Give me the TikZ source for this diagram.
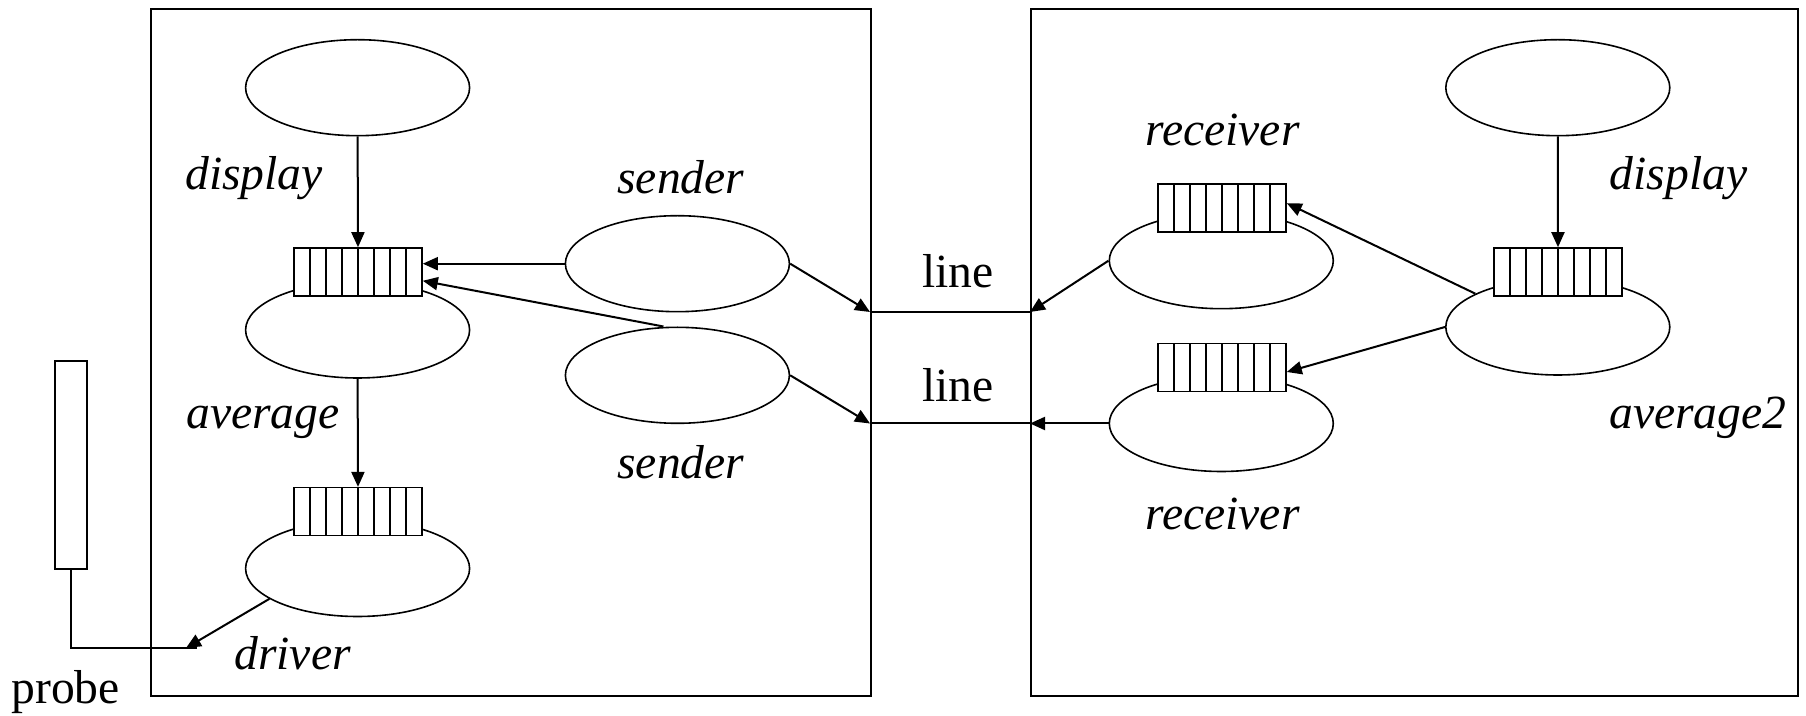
\documentclass[tikz,border=0pt]{standalone}
\usepackage{fontspec}
\setmainfont{Liberation Serif}
\usetikzlibrary{shapes.geometric,arrows.meta,calc}
\begin{document}
\begin{tikzpicture}[x=0.5pt,y=-0.5pt,
  font=\fontsize{23.8}{28}\selectfont,
  proc/.style={ellipse, draw, line width=0.8pt, minimum width=112pt, minimum height=48pt, inner sep=0pt},
  queue/.style={rectangle, draw, fill=white, line width=0.8pt, minimum width=64pt, minimum height=24pt, inner sep=0pt,
    path picture={\foreach \k in {1,...,7}{\draw[line width=0.7pt] ([xshift=\k*8pt]path picture bounding box.south west) -- ([xshift=\k*8pt]path picture bounding box.north west);}}},
  frame/.style={draw, line width=1.1pt, inner sep=0pt, anchor=north west},
  arr/.style={-{Triangle[length=7.5pt,width=6.5pt]}, line width=1pt},
  conn/.style={line width=1pt},
  lab/.style={anchor=base west, inner sep=0pt, font=\fontsize{23.8}{28}\selectfont\itshape},
  ulab/.style={anchor=base west, inner sep=0pt}]
\useasboundingbox (0,0) rectangle (1806,716);

% frames
\node[frame, minimum width=360pt, minimum height=343.5pt] (boxL) at (150,8) {};
\node[frame, minimum width=383.5pt, minimum height=343.5pt] (boxR) at (1030,8) {};
\node[draw, line width=0.9pt, inner sep=0pt, anchor=north west, minimum width=16pt, minimum height=104pt] (probe) at (54,360) {};

% left processes
\node[proc] (disp1) at (357.6,87.7) {};
\node[proc] (avg1) at (357.6,330) {};
\node[proc] (drv) at (357.6,568.5) {};
\node[proc] (snd1) at (677.4,263.7) {};
\node[proc] (snd2) at (677.4,375.3) {};
\node[queue] (q1) at (358,272) {};
\node[queue] (q2) at (358,511.7) {};

% right processes
\node[proc] (rcv1) at (1221.3,260.7) {};
\node[proc] (rcv2) at (1221.3,423.5) {};
\node[proc] (disp2) at (1557.8,87.7) {};
\node[proc] (avg2) at (1557.8,327) {};
\node[queue] (rq1) at (1222,208) {};
\node[queue] (rq2) at (1222,367.6) {};
\node[queue] (q3) at (1558,272) {};

% line end points
\coordinate (l1a) at (870,312);
\coordinate (l1b) at (1030,312);
\coordinate (l2a) at (870,423.5);
\coordinate (l2b) at (1030,423.5);
\coordinate (drvin) at (186,648);
\coordinate (pj) at (197,648);

% labels
\node[lab] (tdisp1) at (185,189.5) {display};
\node[lab] (tavg1) at (186,429) {average};
\node[lab] (tdrv) at (234,669) {driver};
\node[lab] (tsnd1) at (617,194) {sender};
\node[lab] (tsnd2) at (617,478.5) {sender};
\node[ulab] (tprobe) at (11,704) {probe};
\node[ulab] (tline1) at (922,287.3) {line};
\node[ulab] (tline2) at (922,401.8) {line};
\node[lab] (trcv1) at (1145,146) {receiver};
\node[lab] (trcv2) at (1145,529.7) {receiver};
\node[lab] (tdisp2) at (1609.5,189.5) {display};
\node[lab] (tavg2) at (1609,429) {average2};

% connectors left
\draw[arr] (disp1.south) -- (q1.north);
\draw[arr] (avg1.south) -- (q2.north);
\draw[arr] (snd1.west) -- (q1.east |- snd1.west);
\draw[arr] ($(snd2.north)+(-14,0)$) -- ($(q1.east)+(0,8.8)$);
\draw[arr] (drv.199) -- (drvin);
\draw[conn] (probe.south) |- (pj);

% lines between boxes
\draw[arr] (snd1.east) -- (l1a);
\draw[arr] (snd2.east) -- (l2a);
\draw[conn] (l1a) -- (l1b);
\draw[conn] (l2a) -- (l2b);
\draw[arr] (rcv1.west) -- (l1b);
\draw[arr] (rcv2.west) -- (l2b);

% connectors right
\draw[arr] (disp2.south) -- (q3.north);
\draw[arr] (avg2.158) -- ($(rq1.east)+(0,-4.8)$);
\draw[arr] (avg2.west) -- ($(rq2.east)+(0,4.4)$);
\end{tikzpicture}
\end{document}
